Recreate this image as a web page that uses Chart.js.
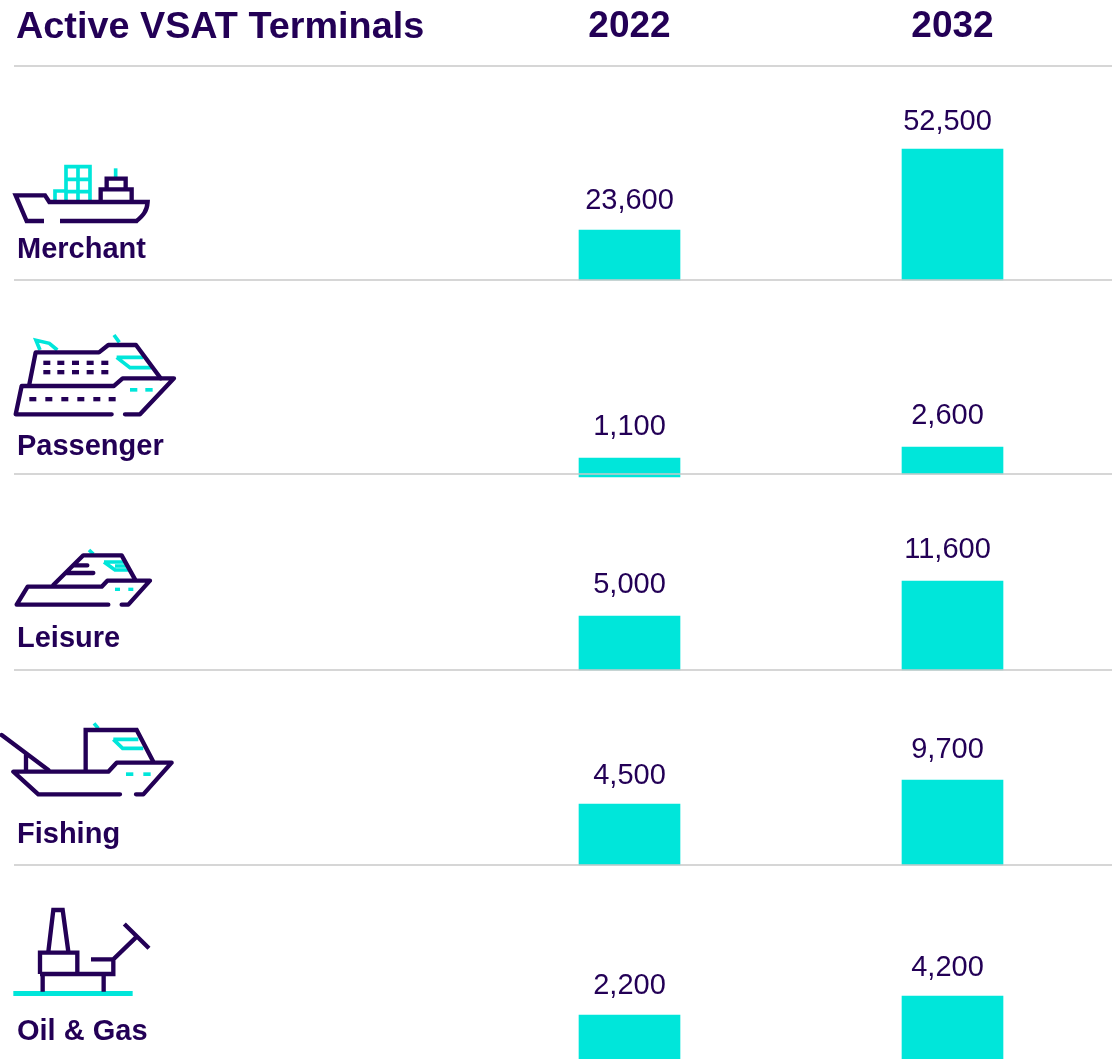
<!DOCTYPE html>
<html>
<head>
<meta charset="utf-8">
<style>
html, body { margin: 0; padding: 0; background: #fff; overflow: hidden; }
#wrap { position: relative; width: 1112px; height: 1059px; overflow: hidden; }
canvas { position: absolute; left: 0; top: 0; }
svg { position: absolute; left: 0; top: 0; }
svg .navy { fill: none; stroke: #230056; stroke-width: 13; stroke-linecap: round; stroke-linejoin: round; }
svg .thin { fill: none; stroke: #230056; stroke-width: 13; stroke-linecap: butt; stroke-linejoin: miter; }
svg .teal { fill: none; stroke: #00e6da; stroke-width: 11; stroke-linecap: butt; stroke-linejoin: miter; }
svg .navyfill { fill: #230056; }
svg .tealfill { fill: #00e6da; }
</style>
</head>
<body>
<div id="wrap">
<canvas id="chart" width="1114" height="1059"></canvas>
<!-- ship icons, coords are 3x so they line up with the zoomed crops -->
<svg width="1112" height="1059">
  <g transform="translate(0,150) scale(0.3333)">
    <path class="teal" d="M198 150V50H270V150M198 88H270M198 125H270M234 50V150M165 150V123H198"/>
    <path class="teal" d="M347 55V82"/>
    <path class="thin" d="M320 118V86H377V118M302 153V118H395V153"/>
    <path class="thin" d="M132 213H80L47 136H135L148 156H443C441 185 428 197 410 213H180"/>
  </g>
  <g transform="translate(0,325) scale(0.3333)">
    <path class="teal" d="M172 75L148 55L108 46L120 75M342 30L358 52M350 97H430M350 97L390 128H455"/>
    <path class="navy" d="M88 178L107 82H297L325 60H408L482 160"/>
    <path class="navy" d="M335 268H47L65 183H342L368 160H522L420 268H375"/>
    <g class="navyfill">
      <rect x="130" y="107" width="21" height="13"/><rect x="172" y="107" width="21" height="13"/><rect x="216" y="107" width="21" height="13"/><rect x="260" y="107" width="21" height="13"/><rect x="304" y="107" width="21" height="13"/>
      <rect x="130" y="135" width="21" height="13"/><rect x="172" y="135" width="21" height="13"/><rect x="216" y="135" width="21" height="13"/><rect x="260" y="135" width="21" height="13"/><rect x="304" y="135" width="21" height="13"/>
      <rect x="88" y="216" width="21" height="13"/><rect x="136" y="216" width="21" height="13"/><rect x="184" y="216" width="21" height="13"/><rect x="232" y="216" width="21" height="13"/><rect x="280" y="216" width="21" height="13"/><rect x="326" y="216" width="21" height="13"/>
    </g>
    <g class="tealfill"><rect x="390" y="189" width="22" height="11"/><rect x="436" y="189" width="22" height="11"/></g>
  </g>
  <g transform="translate(0,540) scale(0.3333)">
    <path class="teal" d="M267 30L280 42M312 66H375M312 66L345 90H385M345 78H380"/>
    <path class="navy" d="M160 135L250 46H365L405 118M225 76H262M200 99H280"/>
    <path class="navy" d="M325 194H50L83 140H305L322 122H450L385 194H365"/>
    <g class="tealfill"><rect x="345" y="143" width="15" height="10"/><rect x="385" y="143" width="15" height="10"/></g>
  </g>
  <g transform="translate(0,715) scale(0.3333)">
    <path class="teal" d="M282 25L295 40M340 73H415M340 73L368 100H430"/>
    <path class="navy" d="M5 60L145 165M78 120V165"/>
    <path class="navy" d="M360 238H115L40 170H325L350 143H515L430 238H408"/>
    <path class="thin" d="M257 165V45H410L460 140"/>
    <g class="tealfill"><rect x="378" y="172" width="22" height="11"/><rect x="430" y="172" width="22" height="11"/></g>
  </g>
  <g transform="translate(0,900) scale(0.3333)">
    <rect class="tealfill" x="40" y="273" width="358" height="15"/>
    <path class="thin" d="M128 225V275M311 225V275M120 222V158H232V222H120M232 222H340V178M273 178H340L408 112M373 72L447 145M145 155L160 30H188L205 155"/>
  </g>
</svg>
</div>
<script src="https://cdn.jsdelivr.net/npm/chart.js@4"></script>
<script>
const years = ['2022', '2032'];
const categories = ['Merchant', 'Passenger', 'Leisure', 'Fishing', 'Oil & Gas'];
const values2022 = [23600, 1100, 5000, 4500, 2200];
const values2032 = [52500, 2600, 11600, 9700, 4200];

// the bars in the picture are not on one common scale, so every row has its own axis
const axisMin = [5750, -1082, -5183, -8717, -2431];
const axisMax = [82148, 25372, 31777, 33533, 17990];
const rowHeight = [214, 194, 196, 195, 194];
const labelLift = [30, 27, 31, 30, 27];
const gap2022 = [29, 31, 31, 28, 29];
const gap2032 = [27, 31, 31, 30, 28];

const navy = '#230056';
const teal = '#00e6da';
const rule = '#c8c8c8';

const scales = {
    x: {
        position: 'top',
        offset: true,
        afterFit(s) { s.height = 66; },
        grid: { display: false },
        border: { display: false },
        ticks: { color: navy, font: { family: 'Liberation Sans', size: 37, weight: 'bold' }, padding: 9, maxRotation: 0 }
    }
};
const datasets = categories.map((name, i) => {
    const id = 'row' + i;
    scales[id] = {
        type: 'linear',
        position: 'left',
        stack: 'rows',
        stackWeight: rowHeight[i],
        weight: categories.length - i,
        min: axisMin[i],
        max: axisMax[i],
        afterFit(s) { s.width = 0; },
        grid: { display: false },
        border: { display: false },
        ticks: { display: false }
    };
    // Passenger 2022 hangs a little under its rule in the original
    const floor2022 = i === 1 ? axisMin[i] - 410 : axisMin[i];
    return {
        label: name,
        yAxisID: id,
        data: [[floor2022, values2022[i]], [axisMin[i], values2032[i]]],
        backgroundColor: teal,
        barThickness: 101,
        grouped: false,
        clip: false
    };
});

// title, row names, value labels and the grey rules
const extras = {
    id: 'extras',
    afterDatasetsDraw(chart) {
        const c = chart.ctx;
        c.save();
        c.fillStyle = navy;
        c.textBaseline = 'middle';
        c.textAlign = 'left';
        c.font = 'bold 37.8px "Liberation Sans"';
        c.fillText('Active VSAT Terminals', 16, 28);

        c.strokeStyle = rule;
        c.lineWidth = 1.5;
        c.beginPath();
        c.moveTo(14, 66);
        c.lineTo(1112, 66);
        c.stroke();

        categories.forEach((name, i) => {
            const s = chart.scales['row' + i];
            if (i < categories.length - 1) {
                c.beginPath();
                c.moveTo(14, s.bottom);
                c.lineTo(1112, s.bottom);
                c.stroke();
            }
            c.textAlign = 'left';
            c.font = 'bold 29px "Liberation Sans"';
            c.fillText(name, 17, s.bottom - labelLift[i]);

            // floating bars keep their top in either y or base, depending on sign
            const bars = chart.getDatasetMeta(i).data;
            const top0 = Math.min(bars[0].y, bars[0].base);
            const top1 = Math.min(bars[1].y, bars[1].base);
            c.textAlign = 'center';
            c.font = '29px "Liberation Sans"';
            c.fillText(values2022[i].toLocaleString('en-US'), bars[0].x, top0 - gap2022[i]);
            c.fillText(values2032[i].toLocaleString('en-US'), bars[1].x - 5, top1 - gap2032[i]);
        });
        c.restore();
    }
};

new Chart(document.getElementById('chart').getContext('2d'), {
    type: 'bar',
    data: { labels: years, datasets: datasets },
    options: {
        responsive: false,
        animation: false,
        layout: { padding: { left: 468, right: 0, top: 0, bottom: 0 } },
        plugins: { legend: { display: false }, tooltip: { enabled: false } },
        scales: scales
    },
    plugins: [extras]
});
</script>
</body>
</html>
